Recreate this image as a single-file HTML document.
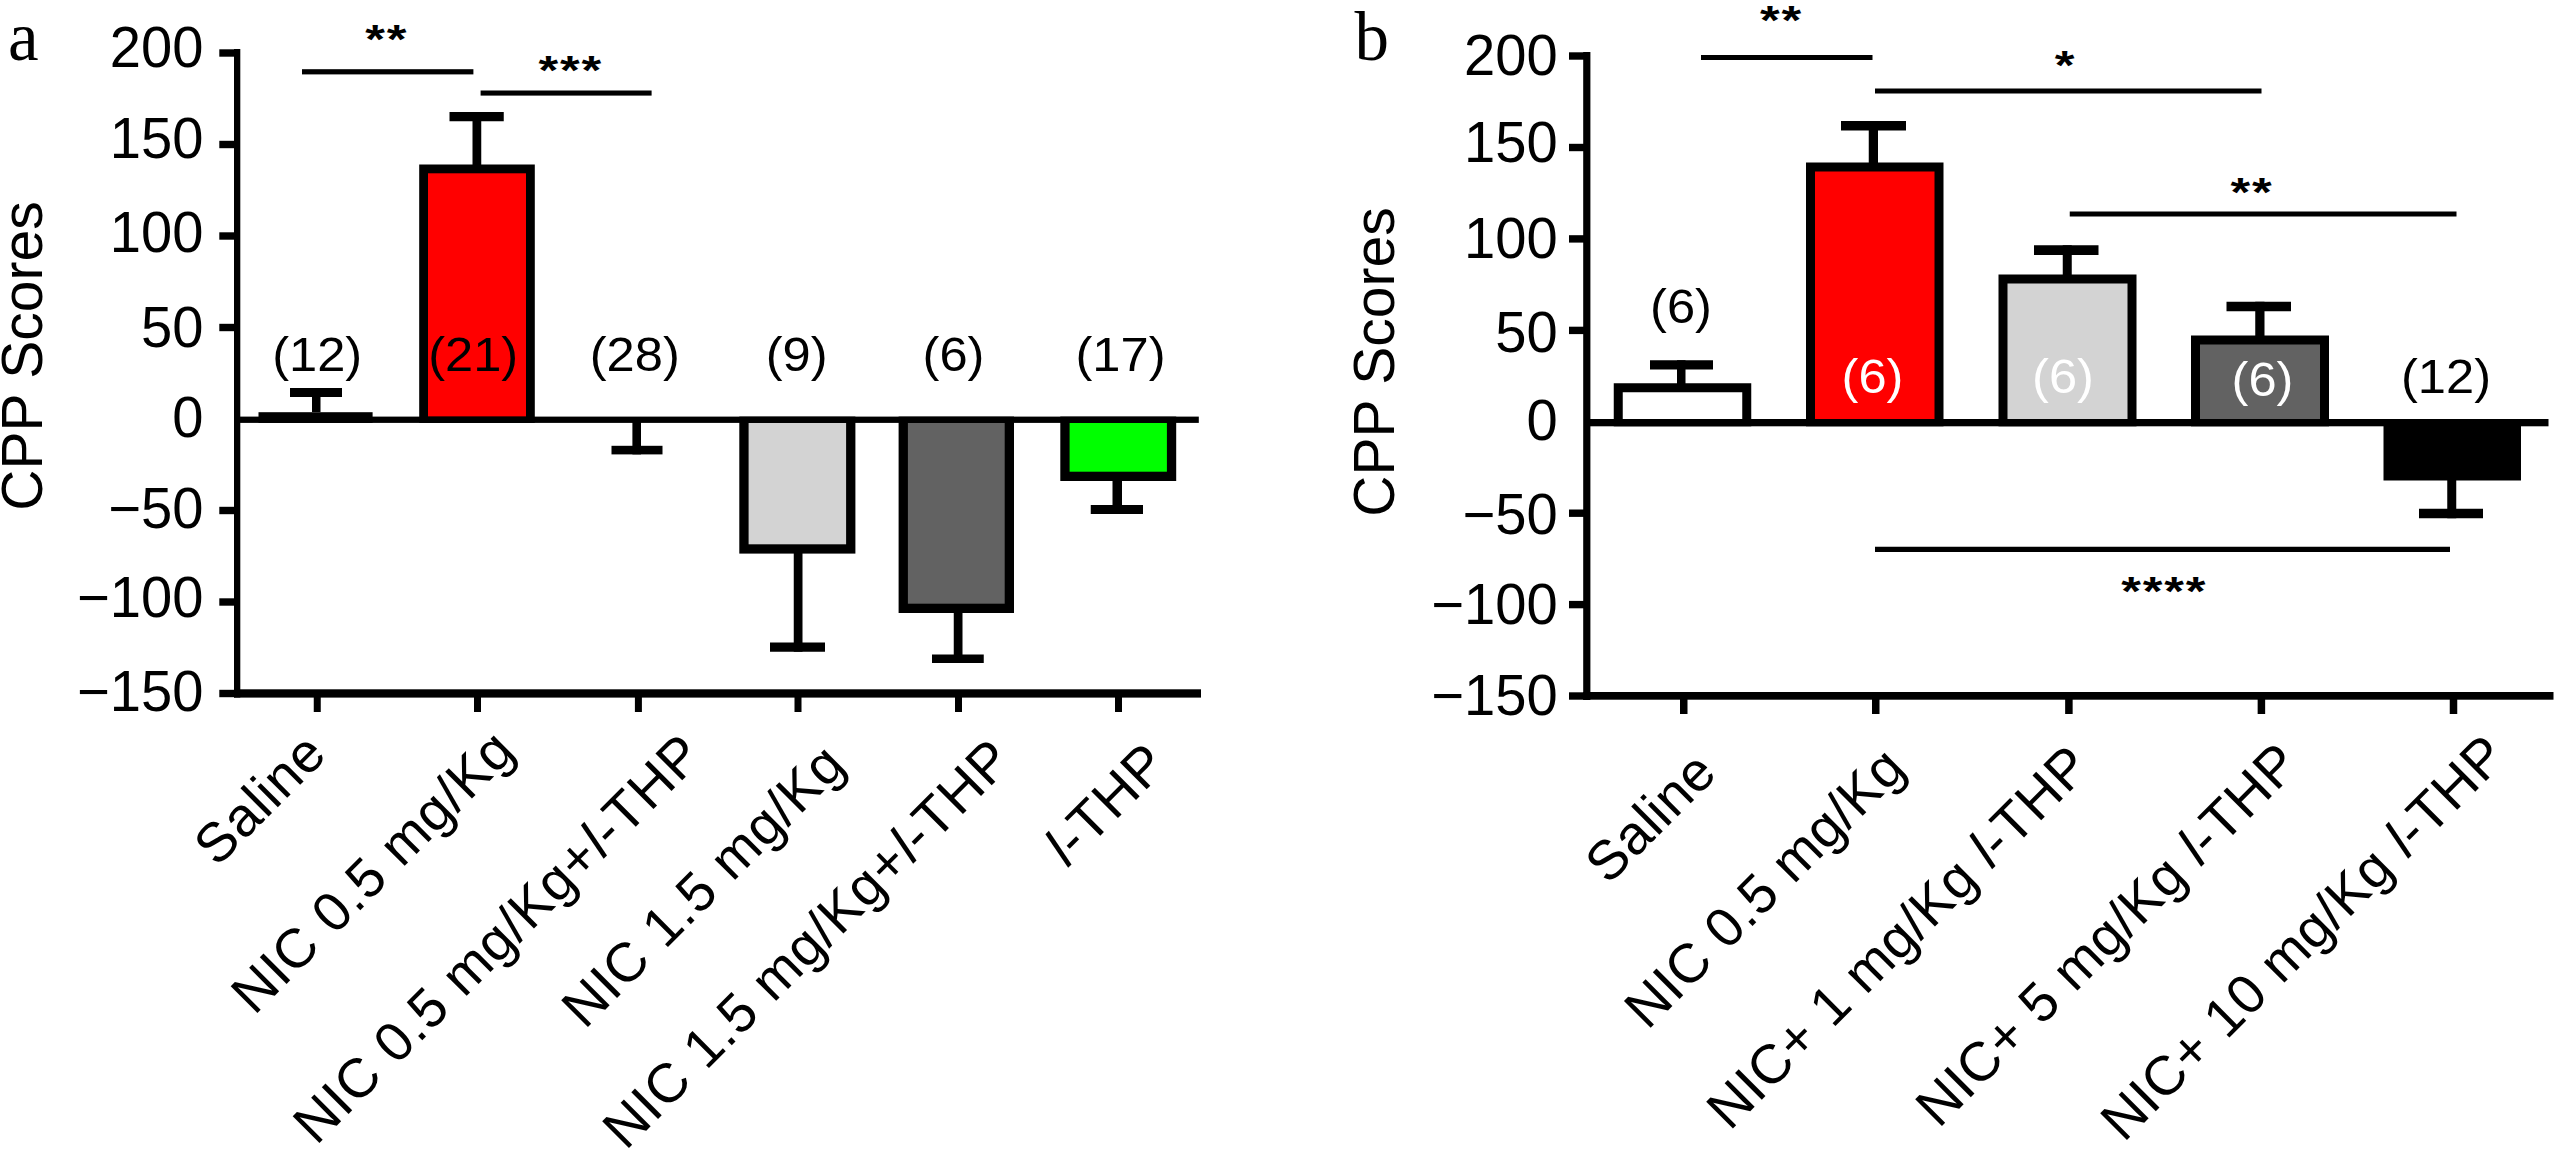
<!DOCTYPE html>
<html lang="en">
<head>
<meta charset="utf-8">
<title>CPP Scores</title>
<style>
html,body{margin:0;padding:0;background:#fff;}
body{width:2559px;height:1155px;overflow:hidden;}
svg{display:block;}
text{white-space:pre;}
</style>
</head>
<body>
<svg width="2559" height="1155" viewBox="0 0 2559 1155">
<rect x="0" y="0" width="2559" height="1155" fill="#fff"/>
<rect x="234" y="49" width="6.3" height="648.5" fill="#000"/>
<rect x="219.3" y="49.3" width="15.7" height="7.4" fill="#000"/>
<rect x="219.3" y="140.8" width="15.7" height="7.4" fill="#000"/>
<rect x="219.3" y="232.3" width="15.7" height="7.4" fill="#000"/>
<rect x="219.3" y="323.8" width="15.7" height="7.4" fill="#000"/>
<rect x="219.3" y="506.8" width="15.7" height="7.4" fill="#000"/>
<rect x="219.3" y="598.3" width="15.7" height="7.4" fill="#000"/>
<rect x="219.3" y="689.8" width="15.7" height="7.4" fill="#000"/>
<rect x="234" y="689.3" width="967" height="8.3" fill="#000"/>
<rect x="313.75" y="696" width="7" height="16" fill="#000"/>
<rect x="474" y="696" width="7" height="16" fill="#000"/>
<rect x="634.9" y="696" width="7" height="16" fill="#000"/>
<rect x="794.5" y="696" width="7" height="16" fill="#000"/>
<rect x="955" y="696" width="7" height="16" fill="#000"/>
<rect x="1115" y="696" width="7" height="16" fill="#000"/>
<text transform="translate(203.5 67.3) scale(0.985 1)" font-family='"Liberation Sans", Arial, sans-serif' font-size="57" fill="#000" text-anchor="end">200</text>
<text transform="translate(203.5 157.6) scale(0.985 1)" font-family='"Liberation Sans", Arial, sans-serif' font-size="57" fill="#000" text-anchor="end">150</text>
<text transform="translate(203.5 252.1) scale(0.985 1)" font-family='"Liberation Sans", Arial, sans-serif' font-size="57" fill="#000" text-anchor="end">100</text>
<text transform="translate(203.5 347.3) scale(0.985 1)" font-family='"Liberation Sans", Arial, sans-serif' font-size="57" fill="#000" text-anchor="end">50</text>
<text transform="translate(203.5 436.5) scale(0.985 1)" font-family='"Liberation Sans", Arial, sans-serif' font-size="57" fill="#000" text-anchor="end">0</text>
<text transform="translate(203.5 527.5) scale(0.985 1)" font-family='"Liberation Sans", Arial, sans-serif' font-size="57" fill="#000" text-anchor="end">−50</text>
<text transform="translate(203.5 617.2) scale(0.985 1)" font-family='"Liberation Sans", Arial, sans-serif' font-size="57" fill="#000" text-anchor="end">−100</text>
<text transform="translate(203.5 710.7) scale(0.985 1)" font-family='"Liberation Sans", Arial, sans-serif' font-size="57" fill="#000" text-anchor="end">−150</text>
<rect x="258.5" y="412.2" width="114.1" height="10.7" fill="#000"/>
<rect x="267.3" y="421" width="96.5" height="-4.4" fill="#fff"/>
<rect x="419.2" y="164.5" width="115.6" height="258.4" fill="#000"/>
<rect x="428" y="173.3" width="98" height="243.3" fill="#ff0000"/>
<rect x="739.3" y="416.6" width="116.1" height="137" fill="#000"/>
<rect x="748.6" y="422.9" width="97.5" height="121.4" fill="#d3d3d3"/>
<rect x="898.6" y="416.6" width="115.4" height="196.4" fill="#000"/>
<rect x="907.9" y="422.9" width="96.8" height="180.8" fill="#626262"/>
<rect x="1060.3" y="416.6" width="115.9" height="64.4" fill="#000"/>
<rect x="1069.6" y="422.9" width="97.3" height="48.8" fill="#00ff00"/>
<rect x="239.3" y="416.6" width="959.5" height="6.3" fill="#000"/>
<rect x="312" y="388" width="8.5" height="24" fill="#000"/>
<rect x="290" y="388" width="52" height="9" fill="#000"/>
<rect x="472.5" y="112" width="8.75" height="54" fill="#000"/>
<rect x="449.5" y="112" width="54.25" height="9.25" fill="#000"/>
<rect x="632.4" y="420" width="8.6" height="34.4" fill="#000"/>
<rect x="611.5" y="445.8" width="51" height="8.6" fill="#000"/>
<rect x="793.75" y="552" width="8.75" height="99.75" fill="#000"/>
<rect x="770" y="642.5" width="55" height="9.25" fill="#000"/>
<rect x="953.75" y="611" width="8.75" height="52" fill="#000"/>
<rect x="932" y="654.5" width="51.75" height="8.5" fill="#000"/>
<rect x="1112.5" y="479" width="9.5" height="35" fill="#000"/>
<rect x="1090.75" y="505" width="52.25" height="9" fill="#000"/>
<text transform="translate(317.2 371) scale(1.06 1)" font-family='"Liberation Sans", Arial, sans-serif' font-size="47.8" fill="#000" text-anchor="middle">(12)</text>
<text transform="translate(473.2 371) scale(1.06 1)" font-family='"Liberation Sans", Arial, sans-serif' font-size="47.8" fill="#000" text-anchor="middle">(21)</text>
<text transform="translate(634.8 371) scale(1.06 1)" font-family='"Liberation Sans", Arial, sans-serif' font-size="47.8" fill="#000" text-anchor="middle">(28)</text>
<text transform="translate(796.7 371) scale(1.06 1)" font-family='"Liberation Sans", Arial, sans-serif' font-size="47.8" fill="#000" text-anchor="middle">(9)</text>
<text transform="translate(953.5 371) scale(1.06 1)" font-family='"Liberation Sans", Arial, sans-serif' font-size="47.8" fill="#000" text-anchor="middle">(6)</text>
<text transform="translate(1120.5 371) scale(1.06 1)" font-family='"Liberation Sans", Arial, sans-serif' font-size="47.8" fill="#000" text-anchor="middle">(17)</text>
<rect x="302" y="69.2" width="171.4" height="5.2" fill="#000"/>
<rect x="480.6" y="90.5" width="171" height="5.1" fill="#000"/>
<text transform="translate(386.821 53.198) scale(1.228 1)" text-anchor="middle" font-family='"Liberation Sans", Arial, sans-serif' font-weight="bold" font-size="41.2" letter-spacing="1.5" fill="#000">**</text>
<text transform="translate(570.721 83.648) scale(1.228 1)" text-anchor="middle" font-family='"Liberation Sans", Arial, sans-serif' font-weight="bold" font-size="41.2" letter-spacing="1.5" fill="#000">***</text>
<text x="8" y="59.5" font-family='"Liberation Serif", "Times New Roman", serif' font-size="69" fill="#000">a</text>
<text transform="translate(41.5 356) rotate(-90)" text-anchor="middle" font-family='"Liberation Sans", Arial, sans-serif' font-size="57" fill="#000">CPP Scores</text>
<text transform="translate(329 756) rotate(-45)" text-anchor="end" font-family='"Liberation Sans", Arial, sans-serif' font-size="55" letter-spacing="0.9" fill="#000">Saline</text>
<text transform="translate(517.5 753) rotate(-45)" text-anchor="end" font-family='"Liberation Sans", Arial, sans-serif' font-size="55" letter-spacing="0.9" fill="#000">NIC 0.5 mg/Kg</text>
<text transform="translate(705.5 757) rotate(-45)" text-anchor="end" font-family='"Liberation Sans", Arial, sans-serif' font-size="55" letter-spacing="0.9" fill="#000">NIC 0.5 mg/Kg+<tspan font-style="italic">l</tspan>-THP</text>
<text transform="translate(848 767) rotate(-45)" text-anchor="end" font-family='"Liberation Sans", Arial, sans-serif' font-size="55" letter-spacing="0.9" fill="#000">NIC 1.5 mg/Kg</text>
<text transform="translate(1015 762) rotate(-45)" text-anchor="end" font-family='"Liberation Sans", Arial, sans-serif' font-size="55" letter-spacing="0.9" fill="#000">NIC 1.5 mg/Kg+<tspan font-style="italic">l</tspan>-THP</text>
<text transform="translate(1170 766) rotate(-45)" text-anchor="end" font-family='"Liberation Sans", Arial, sans-serif' font-size="55" letter-spacing="0.9" fill="#000"><tspan font-style="italic">l</tspan>-THP</text>
<rect x="1583.2" y="52" width="7.2" height="648" fill="#000"/>
<rect x="1569" y="52.3" width="15.2" height="7.4" fill="#000"/>
<rect x="1569" y="143.8" width="15.2" height="7.4" fill="#000"/>
<rect x="1569" y="235.2" width="15.2" height="7.4" fill="#000"/>
<rect x="1569" y="326.7" width="15.2" height="7.4" fill="#000"/>
<rect x="1569" y="509.5" width="15.2" height="7.4" fill="#000"/>
<rect x="1569" y="600.9" width="15.2" height="7.4" fill="#000"/>
<rect x="1569" y="692.3" width="15.2" height="7.4" fill="#000"/>
<rect x="1583.2" y="692" width="970.3" height="7.7" fill="#000"/>
<rect x="1680" y="699" width="7.5" height="15" fill="#000"/>
<rect x="1872" y="699" width="7.5" height="15" fill="#000"/>
<rect x="2065.15" y="699" width="7.5" height="15" fill="#000"/>
<rect x="2257.65" y="699" width="7.5" height="15" fill="#000"/>
<rect x="2449.75" y="699" width="7.5" height="15" fill="#000"/>
<text transform="translate(1557.7 74.95) scale(0.985 1)" font-family='"Liberation Sans", Arial, sans-serif' font-size="57" fill="#000" text-anchor="end">200</text>
<text transform="translate(1557.7 162.2) scale(0.985 1)" font-family='"Liberation Sans", Arial, sans-serif' font-size="57" fill="#000" text-anchor="end">150</text>
<text transform="translate(1557.7 257.8) scale(0.985 1)" font-family='"Liberation Sans", Arial, sans-serif' font-size="57" fill="#000" text-anchor="end">100</text>
<text transform="translate(1557.7 352.2) scale(0.985 1)" font-family='"Liberation Sans", Arial, sans-serif' font-size="57" fill="#000" text-anchor="end">50</text>
<text transform="translate(1557.7 440.2) scale(0.985 1)" font-family='"Liberation Sans", Arial, sans-serif' font-size="57" fill="#000" text-anchor="end">0</text>
<text transform="translate(1557.7 534.2) scale(0.985 1)" font-family='"Liberation Sans", Arial, sans-serif' font-size="57" fill="#000" text-anchor="end">−50</text>
<text transform="translate(1557.7 623.7) scale(0.985 1)" font-family='"Liberation Sans", Arial, sans-serif' font-size="57" fill="#000" text-anchor="end">−100</text>
<text transform="translate(1557.7 714.7) scale(0.985 1)" font-family='"Liberation Sans", Arial, sans-serif' font-size="57" fill="#000" text-anchor="end">−150</text>
<rect x="1613.75" y="383.25" width="137.5" height="43.05" fill="#000"/>
<rect x="1622.75" y="392.25" width="119.5" height="26.75" fill="#fff"/>
<rect x="1806" y="162.5" width="137.5" height="263.8" fill="#000"/>
<rect x="1815" y="171.5" width="119.5" height="247.5" fill="#ff0000"/>
<rect x="1998.5" y="274.5" width="138" height="151.8" fill="#000"/>
<rect x="2007.5" y="283.5" width="120" height="135.5" fill="#d3d3d3"/>
<rect x="2191" y="335.5" width="138" height="90.8" fill="#000"/>
<rect x="2200" y="344.5" width="120" height="74.5" fill="#626262"/>
<rect x="2383.5" y="420" width="137.5" height="60.5" fill="#000"/>
<rect x="1589.4" y="419" width="959.1" height="7.3" fill="#000"/>
<rect x="1677" y="360.25" width="8.5" height="24.75" fill="#000"/>
<rect x="1650" y="360.25" width="63" height="9.25" fill="#000"/>
<rect x="1868.75" y="121" width="9.25" height="43" fill="#000"/>
<rect x="1841" y="121" width="65" height="9.5" fill="#000"/>
<rect x="2062.75" y="245.25" width="9" height="30.75" fill="#000"/>
<rect x="2034" y="245.25" width="64.5" height="9.75" fill="#000"/>
<rect x="2255.25" y="301.75" width="9.25" height="35.25" fill="#000"/>
<rect x="2226.5" y="301.75" width="64.5" height="9.5" fill="#000"/>
<rect x="2447.25" y="479" width="9" height="39.25" fill="#000"/>
<rect x="2419" y="508.75" width="64" height="9.5" fill="#000"/>
<text transform="translate(1681 323) scale(1.06 1)" font-family='"Liberation Sans", Arial, sans-serif' font-size="47.8" fill="#000" text-anchor="middle">(6)</text>
<text transform="translate(1872.5 392.5) scale(1.06 1)" font-family='"Liberation Sans", Arial, sans-serif' font-size="47.8" fill="#fff" text-anchor="middle">(6)</text>
<text transform="translate(2063 392.5) scale(1.06 1)" font-family='"Liberation Sans", Arial, sans-serif' font-size="47.8" fill="#fff" text-anchor="middle">(6)</text>
<text transform="translate(2262.5 396) scale(1.06 1)" font-family='"Liberation Sans", Arial, sans-serif' font-size="47.8" fill="#fff" text-anchor="middle">(6)</text>
<text transform="translate(2446 392.5) scale(1.06 1)" font-family='"Liberation Sans", Arial, sans-serif' font-size="47.8" fill="#000" text-anchor="middle">(12)</text>
<rect x="1701" y="55" width="171.5" height="5" fill="#000"/>
<rect x="1875" y="88.5" width="386.5" height="5" fill="#000"/>
<rect x="2069.75" y="211.5" width="386.75" height="5" fill="#000"/>
<rect x="1875" y="546.75" width="575" height="5.25" fill="#000"/>
<text transform="translate(1781.42 34.448) scale(1.228 1)" text-anchor="middle" font-family='"Liberation Sans", Arial, sans-serif' font-weight="bold" font-size="41.2" letter-spacing="1.5" fill="#000">**</text>
<text transform="translate(2065.42 79.448) scale(1.228 1)" text-anchor="middle" font-family='"Liberation Sans", Arial, sans-serif' font-weight="bold" font-size="41.2" letter-spacing="1.5" fill="#000">*</text>
<text transform="translate(2251.92 205.948) scale(1.228 1)" text-anchor="middle" font-family='"Liberation Sans", Arial, sans-serif' font-weight="bold" font-size="41.2" letter-spacing="1.5" fill="#000">**</text>
<text transform="translate(2164.32 604.948) scale(1.228 1)" text-anchor="middle" font-family='"Liberation Sans", Arial, sans-serif' font-weight="bold" font-size="41.2" letter-spacing="1.5" fill="#000">****</text>
<text x="1354.5" y="59.5" font-family='"Liberation Serif", "Times New Roman", serif' font-size="69" fill="#000">b</text>
<text transform="translate(1394 362) rotate(-90)" text-anchor="middle" font-family='"Liberation Sans", Arial, sans-serif' font-size="57" fill="#000">CPP Scores</text>
<text transform="translate(1719 775) rotate(-45)" text-anchor="end" font-family='"Liberation Sans", Arial, sans-serif' font-size="55" letter-spacing="0.6" fill="#000">Saline</text>
<text transform="translate(1908 770.5) rotate(-45)" text-anchor="end" font-family='"Liberation Sans", Arial, sans-serif' font-size="55" letter-spacing="0.6" fill="#000">NIC 0.5 mg/Kg</text>
<text transform="translate(2093 768.5) rotate(-45)" text-anchor="end" font-family='"Liberation Sans", Arial, sans-serif' font-size="55" letter-spacing="0.6" fill="#000">NIC+ 1 mg/Kg <tspan font-style="italic">l</tspan>-THP</text>
<text transform="translate(2302 766) rotate(-45)" text-anchor="end" font-family='"Liberation Sans", Arial, sans-serif' font-size="55" letter-spacing="0.6" fill="#000">NIC+ 5 mg/Kg <tspan font-style="italic">l</tspan>-THP</text>
<text transform="translate(2509 758) rotate(-45)" text-anchor="end" font-family='"Liberation Sans", Arial, sans-serif' font-size="55" letter-spacing="0.6" fill="#000">NIC+ 10 mg/Kg <tspan font-style="italic">l</tspan>-THP</text>
</svg>
</body>
</html>
